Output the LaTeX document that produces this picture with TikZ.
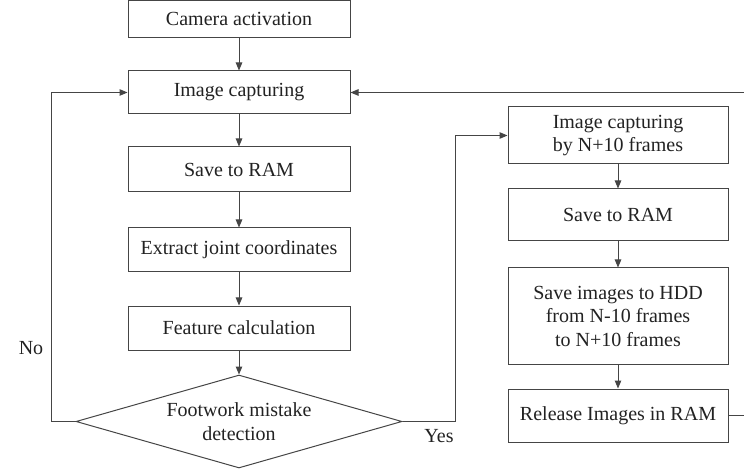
\documentclass[tikz,border=0pt]{standalone}
\usepackage{fontspec}
\setmainfont{Liberation Serif}
\usetikzlibrary{arrows.meta,shapes.geometric}
\definecolor{linec}{HTML}{454545}
\definecolor{textc}{HTML}{222222}
\tikzset{
  box/.style={draw=linec, line width=1pt, rectangle, inner sep=0pt, align=center, text=textc,
    font=\fontsize{20}{23.5}\selectfont},
  leftbox/.style={box, minimum width=222pt},
  rightbox/.style={box, minimum width=220pt},
  decision/.style={draw=linec, line width=1pt, diamond, aspect=3.5, inner sep=0pt, align=center,
    text=textc, font=\fontsize{20}{23.5}\selectfont, minimum width=326pt, minimum height=93pt},
  conn/.style={draw=linec, line width=1pt, -{Triangle[length=8pt,width=6.5pt]}},
  plainline/.style={draw=linec, line width=1pt},
  lbl/.style={text=textc, font=\fontsize{20}{23.5}\selectfont, inner sep=0pt}
}
\begin{document}
\begin{tikzpicture}[x=1pt,y=-1pt]
\useasboundingbox (0,0) rectangle (744,470);
% left column
\node[leftbox, minimum height=37pt] (cam) at (239,19) {Camera activation};
\node[leftbox, minimum height=43pt] (img) at (239,92.5) {Image capturing};
\node[leftbox, minimum height=45pt] (ram) at (239,169.5) {Save to RAM};
\node[leftbox, minimum height=44pt] (ext) at (239,250) {Extract joint coordinates};
\node[leftbox, minimum height=44pt] (feat) at (239,328) {Feature calculation};
\node[decision] (dia) at (239,421.5) {Footwork mistake\\detection};
% right column
\node[rightbox, minimum height=57pt] (cap2) at (618,135.5) {Image capturing\\by N+10 frames};
\node[rightbox, minimum height=52pt] (ram2) at (618,215) {Save to RAM};
\node[rightbox, minimum height=96pt] (hdd) at (618,316) {Save images to HDD\\from N-10 frames\\to N+10 frames};
\node[rightbox, minimum height=53pt] (rel) at (618,415.5) {Release Images in RAM};
% labels
\node[lbl] (no) at (31,348) {No};
\node[lbl] (yes) at (439,436) {Yes};
% coordinates
\coordinate (noturn) at (51,421.5);
\coordinate (yesturn) at (455,421.5);
\coordinate (backturn) at (748,415.5);
% connectors
\draw[conn] (cam) -- (img);
\draw[conn] (img) -- (ram);
\draw[conn] (ram) -- (ext);
\draw[conn] (ext) -- (feat);
\draw[conn] (feat) -- (dia);
\draw[conn] (dia.west) -- (noturn) |- (img.west);
\draw[conn] (dia.east) -- (yesturn) |- (cap2.west);
\draw[conn] (cap2) -- (ram2);
\draw[conn] (ram2) -- (hdd);
\draw[conn] (hdd) -- (rel);
\draw[conn] (rel.east) -- (backturn) |- (img.east);
\end{tikzpicture}
\end{document}
